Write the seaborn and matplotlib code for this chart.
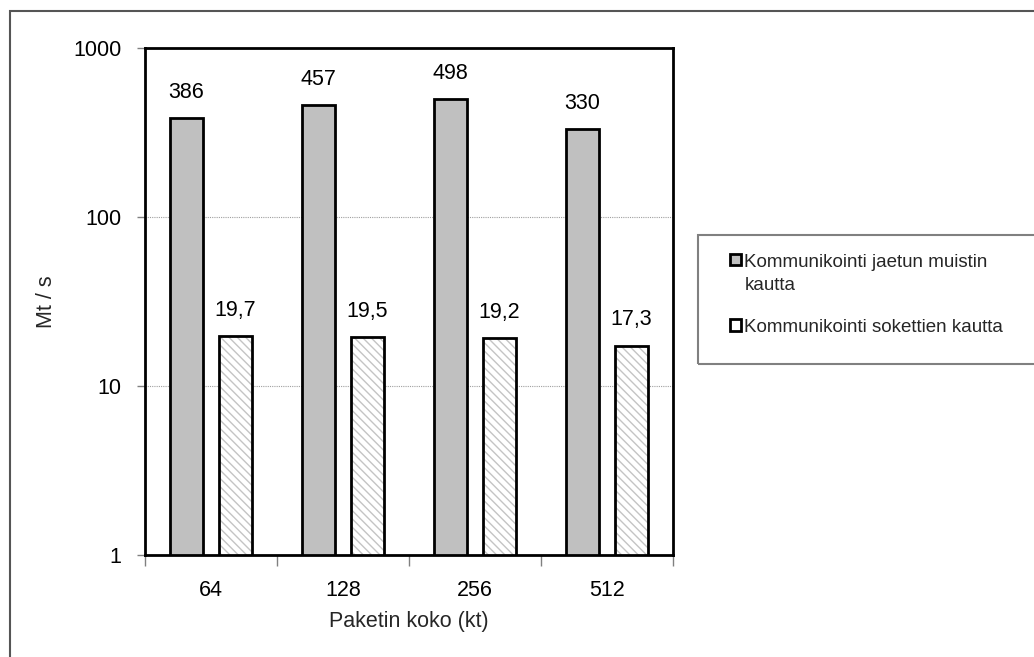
import numpy as np
import pandas as pd
import matplotlib
matplotlib.use("Agg")
import matplotlib.pyplot as plt
from matplotlib.patches import Rectangle, Patch
from matplotlib.legend_handler import HandlerPatch
import seaborn as sns


# ===============================
# DATA
# ===============================
KOOT = ["64", "128", "256", "512"]
JAETTU_MUISTI = [386, 457, 498, 330]
SOKETIT = [19.7, 19.5, 19.2, 17.3]
SARJAT = ["Kommunikointi jaetun muistin kautta",
          "Kommunikointi sokettien kautta"]
LEGEND_LABELS = ["Kommunikointi jaetun muistin\nkautta",
                 "Kommunikointi sokettien kautta"]
Y_TICKS = [1, 10, 100, 1000]

df = pd.DataFrame({
    "koko": KOOT * 2,
    "nopeus": JAETTU_MUISTI + SOKETIT,
    "tapa": [SARJAT[0]] * len(KOOT) + [SARJAT[1]] * len(KOOT),
})


# ===============================
# STYLE
# ===============================
sns.set_theme(style="white")
plt.rcParams["font.family"] = ["Liberation Sans", "DejaVu Sans"]
plt.rcParams["hatch.linewidth"] = 1.0

GRAY = "#c0c0c0"
HATCH_GRAY = "#c4c4c4"
FS = 15.5
LEG_FS = 13.5

fig = plt.figure(figsize=(10.34, 6.57), dpi=100)
ax = fig.add_axes([145 / 1034, 1 - 555 / 657, 528 / 1034, 507 / 657])

sns.barplot(data=df, x="koko", y="nopeus", hue="tapa", order=KOOT,
            hue_order=SARJAT, palette=[GRAY, "white"], edgecolor="black",
            linewidth=2, width=0.74, gap=0.33, legend=False, ax=ax)

ax.set_yscale("log")
ax.set_ylim(1, 1000)
ax.set_xlim(-0.5, len(KOOT) - 0.5)

# hatched bars: light hatch, black outline drawn on top
for bar in ax.containers[1]:
    bar.set_hatch("\\\\\\\\")
    bar.set_edgecolor(HATCH_GRAY)
    bar.set_linewidth(0)
    ax.add_patch(Rectangle(bar.get_xy(), bar.get_width(), bar.get_height(),
                           fill=False, edgecolor="black", linewidth=2,
                           zorder=bar.get_zorder() + 0.1))

# value labels with decimal comma
for cont, vals in zip(ax.containers, [JAETTU_MUISTI, SOKETIT]):
    labels = [str(v).replace(".", ",") for v in vals]
    ax.bar_label(cont, labels=labels, padding=11, fontsize=FS, color="black")

# grid
ax.yaxis.grid(True, which="major", linestyle=(0, (1, 1)), color="#a0a0a0",
              linewidth=0.8)
ax.set_axisbelow(True)

# axes frame
for s in ax.spines.values():
    s.set_color("black")
    s.set_linewidth(2)

ax.set_yticks(Y_TICKS)
ax.set_yticklabels([str(t) for t in Y_TICKS])
ax.yaxis.set_minor_locator(matplotlib.ticker.NullLocator())
ax.tick_params(axis="y", which="major", left=True, length=6, width=1,
               color="#808080", pad=11, labelsize=FS, labelcolor="black")

# x: category labels without marks, marks on category boundaries
ax.set_xticks(np.arange(len(KOOT) + 1) - 0.5, minor=True)
ax.tick_params(axis="x", which="major", length=0, pad=18, labelsize=FS,
               labelcolor="black")
ax.tick_params(axis="x", which="minor", bottom=True, length=8, width=1,
               color="#808080")

ax.set_xlabel("Paketin koko (kt)", fontsize=FS, va="center")
ax.xaxis.set_label_coords(0.5, (555 - 622) / 507)
ax.set_ylabel("Mt / s", fontsize=FS, va="center")
ax.yaxis.set_label_coords((46 - 145) / 528, 0.5)


# ===============================
# LEGEND (outside, right)
# ===============================
def first_line_patch(legend, orig_handle, xdescent, ydescent,
                     width, height, fontsize):
    # keep the marker next to the first text line
    return Rectangle((-xdescent, -ydescent + 0.8 * fontsize), width, height)


handles = [
    Patch(facecolor=GRAY, edgecolor="black", linewidth=2),
    Patch(facecolor="white", edgecolor="black", linewidth=2, hatch="\\"),
]
leg = fig.legend(handles, LEGEND_LABELS, loc="upper left",
                 bbox_to_anchor=(721 / 1034, 1 - 245 / 657), frameon=False,
                 fontsize=LEG_FS, handlelength=0.55, handleheight=0.55,
                 handletextpad=0.2, labelspacing=1.3, borderpad=0,
                 handler_map={handles[0]: HandlerPatch(patch_func=first_line_patch)})
for t in leg.get_texts():
    t.set_linespacing(1.45)

fig.patches.append(Rectangle((698 / 1034, 1 - 364 / 657), 0.4, 129 / 657,
                             transform=fig.transFigure, fill=False,
                             edgecolor="#808080", linewidth=1.5))

# outer chart border (only top/left visible)
fig.patches.append(Rectangle((9.5 / 1034, -0.1), 1.2, 1.1 - 11 / 657,
                             transform=fig.transFigure, fill=False,
                             edgecolor="#555555", linewidth=1.5))

fig.savefig("out.png", dpi=100)
